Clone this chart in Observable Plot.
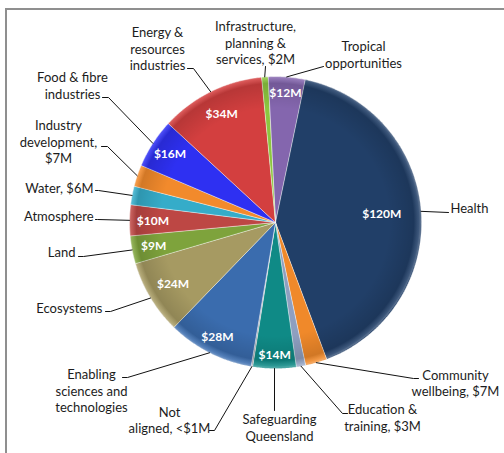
<!DOCTYPE html>
<html><head><meta charset="utf-8">
<script src="https://cdn.jsdelivr.net/npm/d3@7"></script>
<script src="https://cdn.jsdelivr.net/npm/@observablehq/plot@0.6"></script>
<style>
body{margin:0;background:#fff;}
#wrap{position:relative;width:504px;height:453px;overflow:hidden;}
#frame{position:absolute;left:5px;top:8px;right:-10px;bottom:-10px;border-left:2px solid #8f8f8f;border-top:2px solid #8f8f8f;}
#wrap svg{position:absolute;left:0;top:0;}
</style></head><body><div id="wrap"><div id="frame"></div></div>
<script>
// ---- data ----
const categories = ["Tropical opportunities","Health","Community wellbeing","Education & training","Safeguarding Queensland","Not aligned","Enabling sciences and technologies","Ecosystems","Land","Atmosphere","Water","Industry development","Food & fibre industries","Energy & resources industries","Infrastructure, planning & services"];
const values = [12,120,7,3,14,0.5,28,24,9,10,6,7,16,34,2];
const valueLabels = ["$12M","$120M","$7M","$3M","$14M","<$1M","$28M","$24M","$9M","$10M","$6M","$7M","$16M","$34M","$2M"];
const outerLabels = ["Tropical\nopportunities","Health","Community\nwellbeing, $7M","Education &\ntraining, $3M","Safeguarding\nQueensland","Not\naligned, <$1M","Enabling\nsciences and\ntechnologies","Ecosystems","Land","Atmosphere","Water, $6M","Industry\ndevelopment,\n$7M","Food & fibre\nindustries","Energy &\nresources\nindustries","Infrastructure,\nplanning &\nservices, $2M"];
const showInside = [true,true,false,false,true,false,true,true,true,true,false,false,true,true,false];
const colors = ["#8466ae","#213f68","#f0892a","#8e9fc0","#0f8a86","#9aa0a8","#3a6cae","#a69a62","#7ea33c","#bd4744","#35acc9","#f28a2c","#2e30f2","#d33f3f","#8cc63f"];

// ---- layout ----
const W = 504, H = 453;
const CX = 275, CY = 222, R = 146, START_DEG = -3;
const insideR = [0.89,0.73,0,0,0.91,0,0.88,0.82,0.85,0.84,0,0,0.86,0.83,0];
const labelPos = [[363,53.5,"middle"],[450,207,"start"],[455,382,"middle"],[382,416.5,"middle"],[279,426.5,"middle"],[169,419,"middle"],[91,390,"middle"],[102,307,"end"],[75,251,"end"],[93,215,"end"],[93,187,"end"],[58,141,"middle"],[72,84.5,"middle"],[157,48,"middle"],[255,42,"middle"]];
const leaderPath = [[[323,66]],[[448,212]],[[413,378],[418,378]],[[342,413],[347,413]],[[274,410]],[[214,430],[209,430]],[[127,377],[122,377]],[[110,311],[105,311]],[[83,256],[78,256]],[[97,219],[95,219]],[[98,190],[95,190]],[[107,146],[101,146]],[[108,97],[102,97]],[[193,68],[187,68]],[[265,66]]];

const arcs = d3.pie().sort(null).startAngle(START_DEG*Math.PI/180).endAngle((START_DEG+360)*Math.PI/180)(values);

const piePts = arcs.flatMap((a,i)=>{
  const pts=[{k:i,x:CX,y:CY,fill:colors[i]}];
  const n=Math.max(2,Math.ceil((a.endAngle-a.startAngle)/(0.5*Math.PI/180)));
  for(let j=0;j<=n;j++){const t=a.startAngle+(a.endAngle-a.startAngle)*j/n; pts.push({k:i,x:CX+R*Math.sin(t),y:CY-R*Math.cos(t),fill:colors[i]});}
  return pts;
});
const inside = arcs.map((a,i)=>{const m=(a.startAngle+a.endAngle)/2; return {x:CX+R*insideR[i]*Math.sin(m), y:CY-R*insideR[i]*Math.cos(m), t:valueLabels[i], show:showInside[i]};}).filter(d=>d.show);
const leaders = arcs.flatMap((a,i)=>{const m=(a.startAngle+a.endAngle)/2; return [{k:i,x:CX+R*Math.sin(m),y:CY-R*Math.cos(m)}, ...leaderPath[i].map(p=>({k:i,x:p[0],y:p[1]}))];});
const outer = outerLabels.map((t,i)=>({t,x:labelPos[i][0],y:labelPos[i][1],a:labelPos[i][2]}));

const font = "Lato, 'Open Sans', sans-serif";
const txt = anchor => Plot.text(outer.filter(d=>d.a===anchor),{x:"x",y:"y",text:"t",textAnchor:anchor,lineAnchor:"middle",lineHeight:1.27,fontSize:13,fill:"#1c1c1c",fontFamily:font});

// soft rim shading overlay (bevel look)
const rimShade = (index, scales) => {
  const g = d3.create("svg:g");
  const grad = g.append("defs").append("radialGradient").attr("id","rimShade");
  [[0,"#000",0],[0.78,"#000",0],[0.95,"#000",0.13],[0.985,"#fff",0.12],[1,"#fff",0.3]].forEach(([o,c,op])=>grad.append("stop").attr("offset",o).attr("stop-color",c).attr("stop-opacity",op));
  g.append("circle").attr("cx",scales.x(CX)).attr("cy",scales.y(CY)).attr("r",Math.abs(scales.x(CX+R)-scales.x(CX))).attr("fill","url(#rimShade)").attr("pointer-events","none");
  return g.node();
};

const chart = Plot.plot({
  width: W, height: H, margin: 0,
  x: {domain:[0,W], axis:null},
  y: {domain:[0,H], reverse:true, axis:null},
  color: {type:"identity"},
  style: {fontFamily: font, background:"transparent"},
  marks: [
    Plot.line(piePts,{x:"x",y:"y",z:"k",fill:"fill",stroke:"#ffffff",strokeOpacity:0.55,strokeWidth:0.8,curve:"linear-closed"}),
    rimShade,
    Plot.line(leaders,{x:"x",y:"y",z:"k",stroke:"#111",strokeWidth:1}),
    Plot.text(inside,{x:"x",y:"y",text:"t",fill:"#ffffff",fontWeight:"bold",fontSize:12,fontFamily:font}),
    txt("middle"), txt("start"), txt("end")
  ]
});
document.getElementById("wrap").appendChild(chart);
</script></body></html>
